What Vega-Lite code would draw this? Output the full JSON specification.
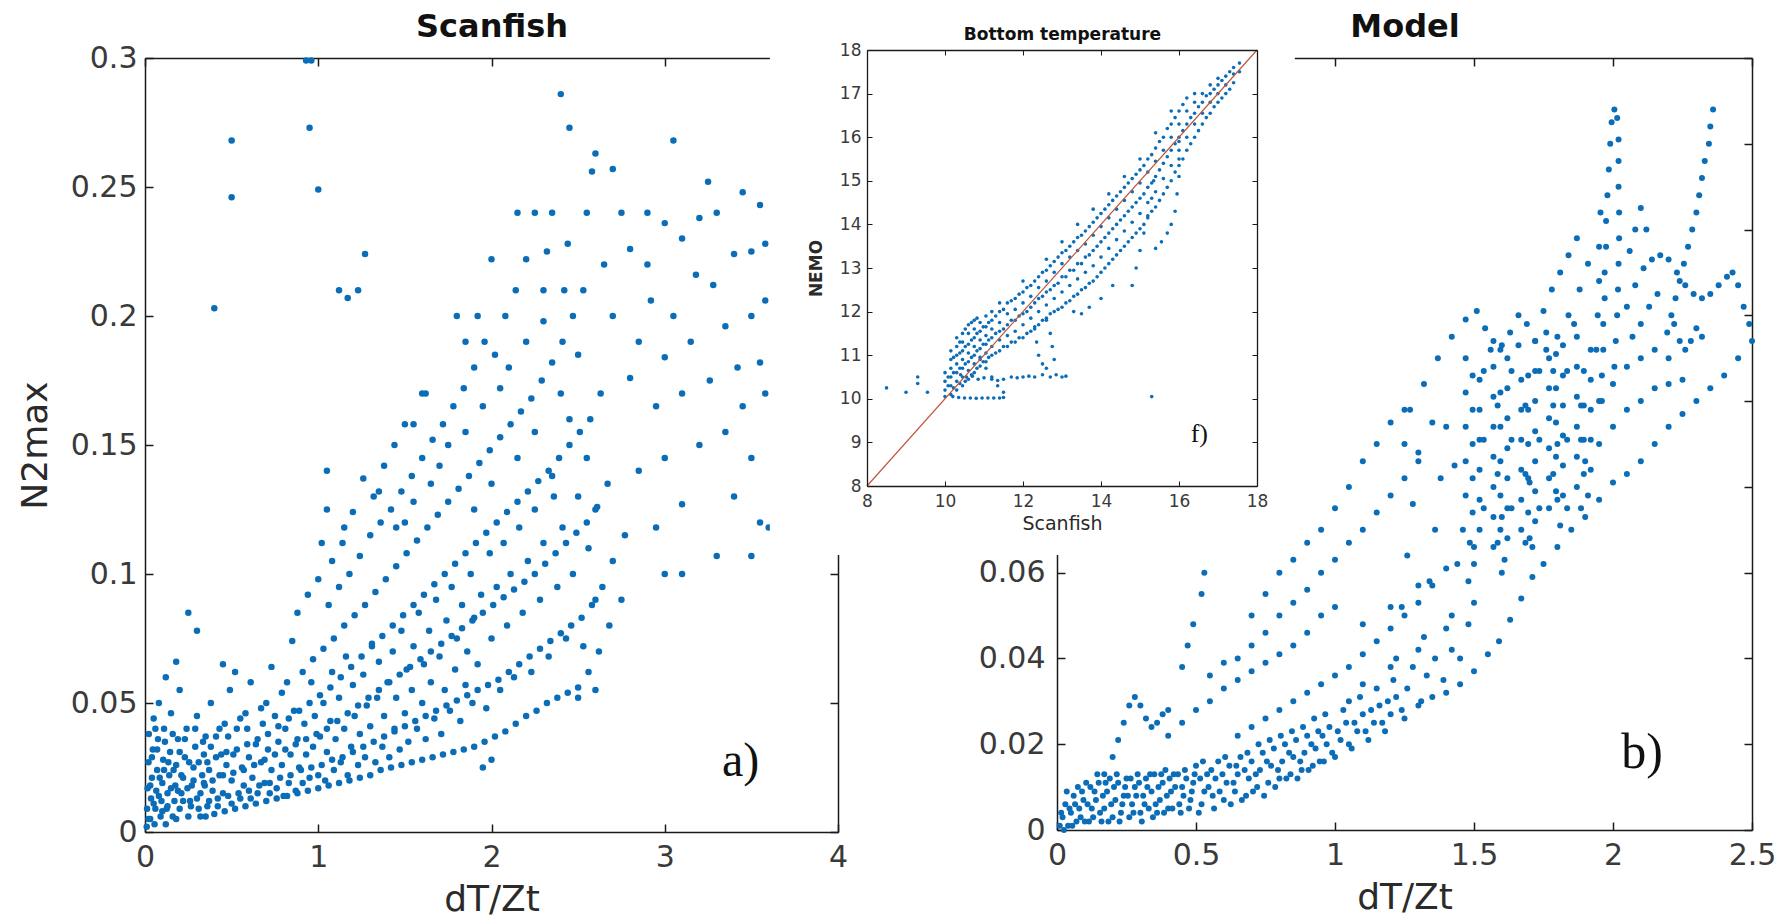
{
  "$schema": "https://vega.github.io/schema/vega-lite/v6.json",
  "width": 1790,
  "height": 924,
  "autosize": {"type": "none"},
  "padding": 0,
  "background": "white",
  "config": {
    "view": {"stroke": null},
    "axis": {
      "labelFont": "DejaVu Sans",
      "titleFont": "DejaVu Sans",
      "titleFontWeight": "normal",
      "domainColor": "#1a1a1a",
      "tickColor": "#1a1a1a",
      "labelColor": "#3a3a3a",
      "titleColor": "#2a2a2a",
      "grid": false,
      "tickSize": -8,
      "tickWidth": 1.5,
      "domainWidth": 1.5,
      "labelFlush": false,
      "labelOverlap": false,
      "format": "~g"
    }
  },
  "datasets": {
    "scanfish": [
      {"x":0.01,"y":0.002},{"x":0.012,"y":0.009},{"x":0.015,"y":0.017},{"x":0.02,"y":0.027},{"x":0.022,"y":0.038},{"x":0.03,"y":0.005},{"x":0.035,"y":0.013},{"x":0.04,"y":0.021},{"x":0.045,"y":0.032},{"x":0.05,"y":0.044},
      {"x":0.055,"y":0.003},{"x":0.06,"y":0.009},{"x":0.065,"y":0.016},{"x":0.07,"y":0.024},{"x":0.075,"y":0.036},{"x":0.08,"y":0.05},{"x":0.09,"y":0.006},{"x":0.095,"y":0.012},{"x":0.1,"y":0.019},{"x":0.105,"y":0.028},
      {"x":0.11,"y":0.04},{"x":0.12,"y":0.003},{"x":0.125,"y":0.009},{"x":0.13,"y":0.015},{"x":0.14,"y":0.022},{"x":0.145,"y":0.031},{"x":0.15,"y":0.046},{"x":0.16,"y":0.006},{"x":0.17,"y":0.012},{"x":0.175,"y":0.018},
      {"x":0.18,"y":0.026},{"x":0.19,"y":0.036},{"x":0.2,"y":0.055},{"x":0.2,"y":0.009},{"x":0.21,"y":0.015},{"x":0.22,"y":0.021},{"x":0.23,"y":0.029},{"x":0.24,"y":0.04},{"x":0.25,"y":0.006},{"x":0.26,"y":0.012},
      {"x":0.27,"y":0.018},{"x":0.28,"y":0.025},{"x":0.29,"y":0.033},{"x":0.3,"y":0.045},{"x":0.31,"y":0.009},{"x":0.32,"y":0.015},{"x":0.33,"y":0.022},{"x":0.34,"y":0.03},{"x":0.25,"y":0.085},{"x":0.3,"y":0.078},
      {"x":0.12,"y":0.06},{"x":0.18,"y":0.066},{"x":0.45,"y":0.065},{"x":0.52,"y":0.062},
      {"x":0.02,"y":0.005},{"x":0.03,"y":0.018},{"x":0.04,"y":0.029},{"x":0.05,"y":0.011},{"x":0.06,"y":0.04},{"x":0.07,"y":0.032},{"x":0.08,"y":0.014},{"x":0.085,"y":0.021},{"x":0.1,"y":0.008},{"x":0.11,"y":0.024},
      {"x":0.115,"y":0.035},{"x":0.13,"y":0.01},{"x":0.135,"y":0.027},{"x":0.15,"y":0.017},{"x":0.16,"y":0.038},{"x":0.165,"y":0.024},{"x":0.18,"y":0.005},{"x":0.19,"y":0.016},{"x":0.2,"y":0.031},{"x":0.21,"y":0.022},
      {"x":0.22,"y":0.012},{"x":0.23,"y":0.036},{"x":0.245,"y":0.017},{"x":0.255,"y":0.027},{"x":0.265,"y":0.01},{"x":0.28,"y":0.02},{"x":0.29,"y":0.04},{"x":0.3,"y":0.013},{"x":0.31,"y":0.027},{"x":0.32,"y":0.006},
      {"x":0.335,"y":0.035},{"x":0.345,"y":0.018},
      {"x":0.36,"y":0.01},{"x":0.37,"y":0.024},{"x":0.38,"y":0.033},{"x":0.39,"y":0.016},{"x":0.41,"y":0.037},{"x":0.42,"y":0.01},{"x":0.43,"y":0.022},{"x":0.44,"y":0.03},{"x":0.45,"y":0.015},{"x":0.47,"y":0.026},
      {"x":0.48,"y":0.037},{"x":0.5,"y":0.011},{"x":0.5,"y":0.02},{"x":0.51,"y":0.03},{"x":0.53,"y":0.04},{"x":0.55,"y":0.013},{"x":0.56,"y":0.025},{"x":0.57,"y":0.018},{"x":0.59,"y":0.04},{"x":0.6,"y":0.029},
      {"x":0.61,"y":0.013},{"x":0.62,"y":0.021},{"x":0.64,"y":0.034},{"x":0.65,"y":0.015},{"x":0.67,"y":0.027},{"x":0.68,"y":0.042},{"x":0.69,"y":0.019},{"x":0.71,"y":0.032},{"x":0.72,"y":0.015},{"x":0.73,"y":0.024},
      {"x":0.75,"y":0.045},{"x":0.76,"y":0.017},{"x":0.77,"y":0.035},{"x":0.79,"y":0.026},{"x":0.8,"y":0.014},{"x":0.81,"y":0.04},{"x":0.83,"y":0.019},{"x":0.84,"y":0.03},{"x":0.86,"y":0.047},{"x":0.87,"y":0.016},
      {"x":0.88,"y":0.036},{"x":0.89,"y":0.025},{"x":0.91,"y":0.019},{"x":0.92,"y":0.042},{"x":0.93,"y":0.03},
      {"x":0.95,"y":0.021},{"x":0.96,"y":0.058},{"x":0.97,"y":0.033},{"x":0.98,"y":0.045},{"x":1.0,"y":0.022},{"x":1.01,"y":0.037},{"x":1.03,"y":0.05},{"x":1.04,"y":0.02},{"x":1.05,"y":0.031},{"x":1.07,"y":0.043},
      {"x":1.08,"y":0.062},{"x":1.09,"y":0.024},{"x":1.1,"y":0.036},{"x":1.12,"y":0.052},{"x":1.13,"y":0.027},{"x":1.15,"y":0.04},{"x":1.16,"y":0.068},{"x":1.17,"y":0.022},{"x":1.19,"y":0.033},{"x":1.2,"y":0.057},
      {"x":1.21,"y":0.045},{"x":1.23,"y":0.026},{"x":1.24,"y":0.038},{"x":1.26,"y":0.061},{"x":1.27,"y":0.029},{"x":1.28,"y":0.049},{"x":1.3,"y":0.041},{"x":1.31,"y":0.073},{"x":1.33,"y":0.027},{"x":1.34,"y":0.052},
      {"x":1.35,"y":0.066},{"x":1.37,"y":0.033},{"x":1.38,"y":0.045},{"x":1.4,"y":0.058},{"x":1.41,"y":0.029},{"x":1.43,"y":0.07},{"x":1.44,"y":0.04},{"x":1.45,"y":0.052},{"x":1.47,"y":0.032},{"x":1.48,"y":0.078},
      {"x":1.5,"y":0.046},{"x":1.51,"y":0.063},{"x":1.52,"y":0.035},{"x":1.54,"y":0.055},{"x":1.55,"y":0.072},{"x":1.57,"y":0.04},{"x":1.58,"y":0.085},{"x":1.6,"y":0.05},{"x":1.61,"y":0.065},{"x":1.62,"y":0.036},
      {"x":1.64,"y":0.078},{"x":1.65,"y":0.058},{"x":1.67,"y":0.044},{"x":1.68,"y":0.09},{"x":1.7,"y":0.068},{"x":1.71,"y":0.038},{"x":1.73,"y":0.055},{"x":1.74,"y":0.082},{"x":1.76,"y":0.047},{"x":1.77,"y":0.095},
      {"x":1.79,"y":0.063},{"x":1.8,"y":0.075},{"x":1.82,"y":0.043},{"x":1.83,"y":0.088},{"x":1.85,"y":0.057},{"x":1.86,"y":0.07},{"x":1.88,"y":0.1},{"x":1.89,"y":0.05},{"x":1.9,"y":0.083},
      {"x":1.92,"y":0.065},{"x":1.94,"y":0.092},{"x":1.97,"y":0.048},{"x":1.99,"y":0.108},{"x":2.0,"y":0.075},{"x":2.03,"y":0.095},{"x":2.05,"y":0.055},{"x":2.07,"y":0.112},{"x":2.09,"y":0.08},{"x":2.11,"y":0.1},
      {"x":2.13,"y":0.06},{"x":2.16,"y":0.118},{"x":2.18,"y":0.085},{"x":2.21,"y":0.105},{"x":2.23,"y":0.062},{"x":2.25,"y":0.125},{"x":2.28,"y":0.09},{"x":2.3,"y":0.112},{"x":2.33,"y":0.068},{"x":2.36,"y":0.13},
      {"x":2.38,"y":0.095},{"x":2.41,"y":0.118},{"x":2.43,"y":0.075},{"x":2.47,"y":0.1},{"x":2.5,"y":0.13},{"x":2.53,"y":0.072},{"x":2.56,"y":0.11},{"x":2.6,"y":0.09},
      {"x":1.05,"y":0.125},{"x":1.15,"y":0.118},{"x":1.35,"y":0.132},{"x":1.45,"y":0.118},{"x":1.55,"y":0.128},{"x":1.65,"y":0.135},{"x":1.7,"y":0.142},{"x":1.75,"y":0.15},{"x":1.85,"y":0.155},{"x":1.95,"y":0.165},
      {"x":2.05,"y":0.172},{"x":2.1,"y":0.18},{"x":2.2,"y":0.19},{"x":2.3,"y":0.198},{"x":2.4,"y":0.17},{"x":2.5,"y":0.185},{"x":2.45,"y":0.16},{"x":2.25,"y":0.155},{"x":2.15,"y":0.145},{"x":2.0,"y":0.135},
      {"x":1.9,"y":0.125},{"x":2.35,"y":0.138},{"x":2.55,"y":0.145},{"x":2.6,"y":0.125},
      {"x":0.35,"y":0.006},{"x":0.37,"y":0.012},{"x":0.34,"y":0.019},{"x":0.36,"y":0.027},{"x":0.35,"y":0.037},{"x":0.38,"y":0.05},
      {"x":0.4,"y":0.007},{"x":0.42,"y":0.013},{"x":0.39,"y":0.02},{"x":0.41,"y":0.029},{"x":0.43,"y":0.04},
      {"x":0.46,"y":0.008},{"x":0.48,"y":0.014},{"x":0.45,"y":0.022},{"x":0.47,"y":0.031},{"x":0.46,"y":0.042},{"x":0.49,"y":0.055},
      {"x":0.52,"y":0.009},{"x":0.54,"y":0.015},{"x":0.51,"y":0.023},{"x":0.53,"y":0.032},{"x":0.55,"y":0.044},
      {"x":0.58,"y":0.01},{"x":0.6,"y":0.016},{"x":0.57,"y":0.024},{"x":0.59,"y":0.034},{"x":0.58,"y":0.046},{"x":0.61,"y":0.058},
      {"x":0.64,"y":0.011},{"x":0.66,"y":0.018},{"x":0.63,"y":0.026},{"x":0.65,"y":0.036},{"x":0.67,"y":0.048},
      {"x":0.7,"y":0.012},{"x":0.72,"y":0.019},{"x":0.69,"y":0.028},{"x":0.71,"y":0.038},{"x":0.7,"y":0.05},{"x":0.73,"y":0.064},
      {"x":0.76,"y":0.013},{"x":0.78,"y":0.021},{"x":0.75,"y":0.03},{"x":0.77,"y":0.041},{"x":0.79,"y":0.054},
      {"x":0.82,"y":0.014},{"x":0.84,"y":0.022},{"x":0.81,"y":0.032},{"x":0.83,"y":0.044},{"x":0.82,"y":0.058},{"x":0.85,"y":0.074},
      {"x":0.88,"y":0.015},{"x":0.9,"y":0.024},{"x":0.87,"y":0.034},{"x":0.89,"y":0.047},{"x":0.91,"y":0.062},{"x":0.88,"y":0.085},
      {"x":0.94,"y":0.016},{"x":0.96,"y":0.025},{"x":0.93,"y":0.036},{"x":0.95,"y":0.05},{"x":0.97,"y":0.067},{"x":0.94,"y":0.092},
      {"x":1.0,"y":0.017},{"x":1.02,"y":0.026},{"x":0.99,"y":0.038},{"x":1.01,"y":0.053},{"x":1.03,"y":0.071},{"x":1.0,"y":0.098},{"x":1.02,"y":0.112},
      {"x":1.06,"y":0.018},{"x":1.08,"y":0.028},{"x":1.05,"y":0.04},{"x":1.07,"y":0.056},{"x":1.09,"y":0.075},{"x":1.06,"y":0.088},{"x":1.08,"y":0.105},
      {"x":1.12,"y":0.019},{"x":1.14,"y":0.029},{"x":1.11,"y":0.043},{"x":1.13,"y":0.06},{"x":1.15,"y":0.08},{"x":1.12,"y":0.095},{"x":1.14,"y":0.112},
      {"x":1.18,"y":0.02},{"x":1.2,"y":0.031},{"x":1.17,"y":0.046},{"x":1.19,"y":0.064},{"x":1.21,"y":0.084},{"x":1.18,"y":0.1},{"x":1.2,"y":0.124},
      {"x":1.24,"y":0.021},{"x":1.26,"y":0.033},{"x":1.23,"y":0.049},{"x":1.25,"y":0.068},{"x":1.27,"y":0.088},{"x":1.24,"y":0.107},{"x":1.26,"y":0.137},
      {"x":1.3,"y":0.022},{"x":1.32,"y":0.035},{"x":1.29,"y":0.052},{"x":1.31,"y":0.072},{"x":1.33,"y":0.093},{"x":1.3,"y":0.115},{"x":1.32,"y":0.13},
      {"x":1.36,"y":0.024},{"x":1.38,"y":0.037},{"x":1.35,"y":0.055},{"x":1.37,"y":0.076},{"x":1.39,"y":0.098},{"x":1.36,"y":0.12},{"x":1.38,"y":0.142},
      {"x":1.42,"y":0.025},{"x":1.44,"y":0.039},{"x":1.41,"y":0.058},{"x":1.43,"y":0.08},{"x":1.45,"y":0.103},{"x":1.42,"y":0.125},{"x":1.44,"y":0.15},
      {"x":1.48,"y":0.026},{"x":1.5,"y":0.041},{"x":1.47,"y":0.061},{"x":1.49,"y":0.084},{"x":1.51,"y":0.108},{"x":1.48,"y":0.132},{"x":1.5,"y":0.158},
      {"x":1.54,"y":0.027},{"x":1.56,"y":0.043},{"x":1.53,"y":0.064},{"x":1.55,"y":0.088},{"x":1.57,"y":0.113},{"x":1.54,"y":0.138},
      {"x":1.6,"y":0.028},{"x":1.62,"y":0.045},{"x":1.59,"y":0.067},{"x":1.61,"y":0.092},{"x":1.63,"y":0.118},{"x":1.6,"y":0.145},{"x":1.62,"y":0.17},
      {"x":1.66,"y":0.029},{"x":1.68,"y":0.047},{"x":1.65,"y":0.07},{"x":1.67,"y":0.096},{"x":1.69,"y":0.123},{"x":1.66,"y":0.152},
      {"x":1.72,"y":0.03},{"x":1.74,"y":0.049},{"x":1.71,"y":0.073},{"x":1.73,"y":0.1},{"x":1.75,"y":0.128},{"x":1.72,"y":0.158},
      {"x":1.78,"y":0.031},{"x":1.8,"y":0.051},{"x":1.77,"y":0.076},{"x":1.79,"y":0.104},{"x":1.81,"y":0.133},{"x":1.78,"y":0.165},
      {"x":1.84,"y":0.032},{"x":1.86,"y":0.053},{"x":1.83,"y":0.079},{"x":1.85,"y":0.108},{"x":1.87,"y":0.138},{"x":1.84,"y":0.172},
      {"x":1.9,"y":0.033},{"x":1.92,"y":0.055},{"x":1.89,"y":0.082},{"x":1.91,"y":0.112},{"x":1.93,"y":0.143},{"x":1.9,"y":0.18},{"x":1.92,"y":0.2},
      {"x":1.96,"y":0.035},{"x":1.98,"y":0.057},{"x":1.95,"y":0.085},{"x":1.97,"y":0.116},{"x":1.99,"y":0.148},{"x":1.96,"y":0.19},
      {"x":2.02,"y":0.037},{"x":2.04,"y":0.059},{"x":2.01,"y":0.088},{"x":2.03,"y":0.12},{"x":2.05,"y":0.153},{"x":2.02,"y":0.185},
      {"x":2.08,"y":0.039},{"x":2.1,"y":0.062},{"x":2.07,"y":0.091},{"x":2.09,"y":0.124},{"x":2.11,"y":0.158},{"x":2.08,"y":0.2},
      {"x":2.14,"y":0.042},{"x":2.16,"y":0.065},{"x":2.13,"y":0.094},{"x":2.15,"y":0.128},{"x":2.17,"y":0.163},{"x":2.14,"y":0.21},
      {"x":2.2,"y":0.045},{"x":2.22,"y":0.068},{"x":2.19,"y":0.097},{"x":2.21,"y":0.132},{"x":2.23,"y":0.168},{"x":2.2,"y":0.222},
      {"x":2.26,"y":0.047},{"x":2.28,"y":0.071},{"x":2.25,"y":0.1},{"x":2.27,"y":0.136},{"x":2.29,"y":0.175},
      {"x":2.32,"y":0.05},{"x":2.34,"y":0.074},{"x":2.31,"y":0.104},{"x":2.33,"y":0.14},{"x":2.35,"y":0.182},{"x":2.32,"y":0.225},
      {"x":2.38,"y":0.052},{"x":2.4,"y":0.077},{"x":2.37,"y":0.108},{"x":2.39,"y":0.145},{"x":2.41,"y":0.19},
      {"x":2.44,"y":0.054},{"x":2.46,"y":0.08},{"x":2.43,"y":0.112},{"x":2.45,"y":0.15},{"x":2.47,"y":0.2},{"x":2.44,"y":0.228},
      {"x":2.5,"y":0.056},{"x":2.52,"y":0.083},{"x":2.49,"y":0.116},{"x":2.51,"y":0.155},{"x":2.53,"y":0.21},
      {"x":2.56,"y":0.062},{"x":2.58,"y":0.088},{"x":2.55,"y":0.12},{"x":2.57,"y":0.16},{"x":2.55,"y":0.24},
      {"x":2.62,"y":0.07},{"x":2.64,"y":0.095},{"x":2.61,"y":0.126},{"x":2.63,"y":0.17},
      {"x":2.68,"y":0.08},{"x":2.7,"y":0.105},{"x":2.67,"y":0.135},{"x":2.75,"y":0.09},{"x":2.77,"y":0.115},
      {"x":0.4,"y":0.203},{"x":0.5,"y":0.268},{"x":0.5,"y":0.246},{"x":0.93,"y":0.299},{"x":0.96,"y":0.299},{"x":0.95,"y":0.273},{"x":1.0,"y":0.249},{"x":1.27,"y":0.224},{"x":1.12,"y":0.21},{"x":1.17,"y":0.207},
      {"x":1.23,"y":0.21},{"x":2.4,"y":0.286},{"x":2.45,"y":0.273},{"x":3.05,"y":0.268},{"x":2.6,"y":0.263},{"x":2.58,"y":0.256},{"x":2.7,"y":0.257},{"x":2.75,"y":0.24},{"x":2.9,"y":0.24},{"x":3.0,"y":0.236},
      {"x":3.1,"y":0.23},{"x":3.2,"y":0.238},{"x":3.3,"y":0.24},{"x":3.45,"y":0.248},{"x":3.55,"y":0.243},{"x":3.58,"y":0.228},{"x":3.4,"y":0.224},{"x":3.28,"y":0.212},{"x":3.18,"y":0.216},{"x":3.05,"y":0.2},
      {"x":2.92,"y":0.206},{"x":2.85,"y":0.19},{"x":3.0,"y":0.184},{"x":3.15,"y":0.19},{"x":3.35,"y":0.196},{"x":3.5,"y":0.2},{"x":3.58,"y":0.206},{"x":3.55,"y":0.182},{"x":3.42,"y":0.18},{"x":3.26,"y":0.175},
      {"x":3.1,"y":0.17},{"x":2.95,"y":0.165},{"x":2.8,"y":0.176},{"x":3.45,"y":0.165},{"x":3.58,"y":0.17},{"x":3.35,"y":0.155},{"x":3.2,"y":0.15},{"x":3.5,"y":0.145},{"x":3.0,"y":0.145},{"x":2.85,"y":0.14},
      {"x":3.4,"y":0.13},{"x":3.55,"y":0.12},{"x":3.1,"y":0.127},{"x":2.95,"y":0.118},{"x":3.3,"y":0.107},{"x":3.0,"y":0.1},{"x":3.1,"y":0.1},{"x":3.5,"y":0.107},{"x":3.6,"y":0.118},{"x":3.5,"y":0.225},
      {"x":2.9,"y":0.22},{"x":2.7,"y":0.2},{"x":2.65,"y":0.22},{"x":2.8,"y":0.226},{"x":3.25,"y":0.252},{"x":1.05,"y":0.14},{"x":1.6,"y":0.17},{"x":1.55,"y":0.158},{"x":2.6,"y":0.055},{"x":2.5,"y":0.052},
      {"x":1.95,"y":0.025},{"x":2.0,"y":0.028},{"x":1.5,"y":0.12},{"x":2.0,"y":0.222},{"x":2.25,"y":0.24},{"x":2.35,"y":0.24},{"x":2.15,"y":0.24},{"x":2.3,"y":0.21},{"x":2.42,"y":0.21},{"x":1.8,"y":0.2},{"x":1.85,"y":0.19}
    ],
    "model": [
      {"x":0.01,"y":0.001},{"x":0.02,"y":0.003},{"x":0.03,"y":0.006},{"x":0.04,"y":0.001},{"x":0.05,"y":0.004},{"x":0.06,"y":0.008},{"x":0.07,"y":0.002},{"x":0.08,"y":0.005},{"x":0.09,"y":0.009},{"x":0.1,"y":0.002},
      {"x":0.11,"y":0.006},{"x":0.12,"y":0.01},{"x":0.13,"y":0.003},{"x":0.14,"y":0.007},{"x":0.15,"y":0.011},{"x":0.16,"y":0.002},{"x":0.17,"y":0.005},{"x":0.18,"y":0.009},{"x":0.19,"y":0.012},{"x":0.2,"y":0.003},
      {"x":0.21,"y":0.007},{"x":0.22,"y":0.011},{"x":0.23,"y":0.004},{"x":0.24,"y":0.008},{"x":0.25,"y":0.012},{"x":0.26,"y":0.003},{"x":0.27,"y":0.006},{"x":0.28,"y":0.01},{"x":0.29,"y":0.013},{"x":0.3,"y":0.004},
      {"x":0.31,"y":0.008},{"x":0.32,"y":0.012},{"x":0.33,"y":0.005},{"x":0.34,"y":0.009},{"x":0.35,"y":0.013},{"x":0.36,"y":0.004},{"x":0.37,"y":0.007},{"x":0.38,"y":0.011},{"x":0.39,"y":0.014},{"x":0.4,"y":0.005},
      {"x":0.41,"y":0.009},{"x":0.42,"y":0.013},{"x":0.44,"y":0.006},{"x":0.45,"y":0.01},{"x":0.46,"y":0.014},{"x":0.48,"y":0.007},{"x":0.49,"y":0.011},{"x":0.5,"y":0.015},{"x":0.52,"y":0.006},{"x":0.53,"y":0.009},
      {"x":0.54,"y":0.013},{"x":0.56,"y":0.008},{"x":0.57,"y":0.012},{"x":0.58,"y":0.016},{"x":0.6,"y":0.007},{"x":0.61,"y":0.011},{"x":0.62,"y":0.015},{"x":0.64,"y":0.009},{"x":0.65,"y":0.013},{"x":0.66,"y":0.017},
      {"x":0.68,"y":0.008},{"x":0.69,"y":0.012},{"x":0.7,"y":0.016},{"x":0.72,"y":0.01},{"x":0.73,"y":0.014},{"x":0.74,"y":0.018},{"x":0.76,"y":0.011},{"x":0.77,"y":0.015},{"x":0.78,"y":0.019},{"x":0.8,"y":0.012},
      {"x":0.81,"y":0.016},{"x":0.82,"y":0.02},{"x":0.84,"y":0.013},{"x":0.85,"y":0.017},{"x":0.86,"y":0.021},{"x":0.88,"y":0.014},{"x":0.89,"y":0.018},{"x":0.9,"y":0.022},{"x":0.92,"y":0.015},{"x":0.93,"y":0.019},
      {"x":0.94,"y":0.023},{"x":0.96,"y":0.016},{"x":0.97,"y":0.02},{"x":0.98,"y":0.024},{"x":1.0,"y":0.017},{"x":1.02,"y":0.021},{"x":1.04,"y":0.025},{"x":1.06,"y":0.019},{"x":1.08,"y":0.023},{"x":1.1,"y":0.027},
      {"x":1.12,"y":0.021},{"x":1.14,"y":0.025},{"x":1.16,"y":0.029},{"x":1.18,"y":0.023},{"x":1.2,"y":0.027},{"x":1.22,"y":0.031},
      {"x":0.015,"y":0.004},{"x":0.025,"y":0.0},{"x":0.035,"y":0.009},{"x":0.045,"y":0.005},{"x":0.055,"y":0.001},{"x":0.065,"y":0.006},{"x":0.075,"y":0.01},{"x":0.085,"y":0.003},{"x":0.095,"y":0.007},{"x":0.105,"y":0.011},
      {"x":0.115,"y":0.002},{"x":0.125,"y":0.005},{"x":0.135,"y":0.009},{"x":0.145,"y":0.013},{"x":0.155,"y":0.004},{"x":0.165,"y":0.008},{"x":0.175,"y":0.011},{"x":0.185,"y":0.002},{"x":0.195,"y":0.006},{"x":0.205,"y":0.01},
      {"x":0.215,"y":0.013},{"x":0.225,"y":0.002},{"x":0.235,"y":0.006},{"x":0.245,"y":0.01},{"x":0.255,"y":0.008},{"x":0.265,"y":0.012},{"x":0.275,"y":0.004},{"x":0.285,"y":0.008},{"x":0.295,"y":0.011},{"x":0.305,"y":0.002},
      {"x":0.315,"y":0.006},{"x":0.325,"y":0.01},{"x":0.335,"y":0.013},{"x":0.345,"y":0.003},{"x":0.355,"y":0.006},{"x":0.365,"y":0.01},{"x":0.375,"y":0.013},{"x":0.385,"y":0.004},{"x":0.395,"y":0.008},{"x":0.405,"y":0.012},
      {"x":0.415,"y":0.005},{"x":0.425,"y":0.01},{"x":0.435,"y":0.013},{"x":0.445,"y":0.004},{"x":0.455,"y":0.008},{"x":0.465,"y":0.012},{"x":0.475,"y":0.005},{"x":0.485,"y":0.009},{"x":0.495,"y":0.013},{"x":0.51,"y":0.004},
      {"x":0.515,"y":0.012},{"x":0.525,"y":0.016},{"x":0.545,"y":0.01},{"x":0.555,"y":0.014},{"x":0.565,"y":0.005},{"x":0.585,"y":0.009},{"x":0.595,"y":0.013},{"x":0.605,"y":0.017},{"x":0.625,"y":0.006},{"x":0.635,"y":0.011},
      {"x":0.645,"y":0.015},{"x":0.665,"y":0.007},{"x":0.675,"y":0.014},{"x":0.685,"y":0.018},{"x":0.705,"y":0.009},{"x":0.715,"y":0.013},{"x":0.725,"y":0.02},{"x":0.745,"y":0.008},{"x":0.755,"y":0.016},{"x":0.765,"y":0.021},
      {"x":0.785,"y":0.01},{"x":0.795,"y":0.014},{"x":0.805,"y":0.022},{"x":0.825,"y":0.012},{"x":0.835,"y":0.018},{"x":0.845,"y":0.023},{"x":0.865,"y":0.012},{"x":0.875,"y":0.016},{"x":0.885,"y":0.024},{"x":0.905,"y":0.014},
      {"x":0.915,"y":0.02},{"x":0.925,"y":0.026},{"x":0.945,"y":0.016},{"x":0.955,"y":0.022},{"x":0.965,"y":0.027},{"x":0.99,"y":0.018},{"x":1.01,"y":0.023},{"x":1.03,"y":0.028},{"x":1.05,"y":0.02},{"x":1.07,"y":0.025},
      {"x":1.09,"y":0.031},{"x":1.11,"y":0.023},{"x":1.13,"y":0.028},{"x":1.15,"y":0.033},{"x":1.17,"y":0.025},{"x":1.19,"y":0.03},{"x":1.21,"y":0.035},{"x":1.24,"y":0.028},{"x":1.26,"y":0.033},{"x":1.28,"y":0.038},
      {"x":1.31,"y":0.03},{"x":1.33,"y":0.036},{"x":1.36,"y":0.04},{"x":1.39,"y":0.035},{"x":1.42,"y":0.042},{"x":1.45,"y":0.04},{"x":1.48,"y":0.048},
      {"x":0.17,"y":0.013},{"x":0.2,"y":0.017},{"x":0.22,"y":0.021},{"x":0.24,"y":0.025},{"x":0.26,"y":0.029},{"x":0.28,"y":0.031},{"x":0.3,"y":0.029},{"x":0.32,"y":0.026},{"x":0.34,"y":0.024},{"x":0.36,"y":0.025},
      {"x":0.38,"y":0.027},{"x":0.4,"y":0.028},{"x":0.45,"y":0.038},{"x":0.47,"y":0.043},{"x":0.49,"y":0.048},{"x":0.52,"y":0.055},{"x":0.53,"y":0.06},
      {"x":0.4,"y":0.022},{"x":0.45,"y":0.025},{"x":0.5,"y":0.028},{"x":0.55,"y":0.03},{"x":0.6,"y":0.033},{"x":0.65,"y":0.035},{"x":0.7,"y":0.037},{"x":0.75,"y":0.039},{"x":0.8,"y":0.041},{"x":0.85,"y":0.043},
      {"x":0.9,"y":0.046},{"x":0.95,"y":0.05},{"x":1.0,"y":0.052},
      {"x":0.55,"y":0.036},{"x":0.6,"y":0.039},{"x":0.65,"y":0.04},{"x":0.7,"y":0.043},{"x":0.75,"y":0.046},{"x":0.8,"y":0.05},{"x":0.85,"y":0.053},{"x":0.9,"y":0.056},{"x":0.95,"y":0.06},{"x":1.0,"y":0.063},
      {"x":1.05,"y":0.067},{"x":1.1,"y":0.07},{"x":1.15,"y":0.074},{"x":1.2,"y":0.078},{"x":1.25,"y":0.082},{"x":1.3,"y":0.086},
      {"x":0.65,"y":0.022},{"x":0.7,"y":0.024},{"x":0.75,"y":0.026},{"x":0.8,"y":0.028},{"x":0.85,"y":0.03},{"x":0.9,"y":0.032},{"x":0.95,"y":0.034},{"x":1.0,"y":0.036},{"x":1.05,"y":0.038},{"x":1.1,"y":0.041},
      {"x":1.15,"y":0.044},{"x":1.2,"y":0.047},{"x":1.25,"y":0.05},{"x":1.3,"y":0.053},{"x":1.35,"y":0.057},
      {"x":0.7,"y":0.05},{"x":0.75,"y":0.055},{"x":0.8,"y":0.06},{"x":0.85,"y":0.063},{"x":0.9,"y":0.067},{"x":0.95,"y":0.07},{"x":1.0,"y":0.075},{"x":1.05,"y":0.08},{"x":1.1,"y":0.086},{"x":1.15,"y":0.09},
      {"x":1.2,"y":0.095},{"x":1.25,"y":0.098},
      {"x":1.25,"y":0.026},{"x":1.3,"y":0.029},{"x":1.35,"y":0.031},{"x":1.4,"y":0.032},{"x":1.45,"y":0.034},{"x":1.5,"y":0.037},{"x":1.55,"y":0.041},{"x":1.59,"y":0.044},{"x":1.63,"y":0.049},{"x":1.67,"y":0.054},
      {"x":1.71,"y":0.059},{"x":1.75,"y":0.062},{"x":1.8,"y":0.066},{"x":1.85,"y":0.07},{"x":1.9,"y":0.073},{"x":1.95,"y":0.077},{"x":2.0,"y":0.081},{"x":2.05,"y":0.083},{"x":2.1,"y":0.086},{"x":2.15,"y":0.09},
      {"x":2.2,"y":0.094},{"x":2.25,"y":0.097},{"x":2.3,"y":0.1},{"x":2.35,"y":0.103},{"x":2.4,"y":0.106},{"x":2.45,"y":0.11},{"x":2.5,"y":0.114},
      {"x":1.05,"y":0.03},{"x":1.1,"y":0.034},{"x":1.2,"y":0.038},{"x":1.3,"y":0.042},{"x":1.4,"y":0.047},{"x":1.5,"y":0.053},{"x":1.6,"y":0.06},{"x":1.7,"y":0.068},{"x":1.8,"y":0.077},{"x":1.9,"y":0.086},
      {"x":1.1,"y":0.048},{"x":1.2,"y":0.052},{"x":1.3,"y":0.057},{"x":1.4,"y":0.061},{"x":1.5,"y":0.066},{"x":1.6,"y":0.073},{"x":1.7,"y":0.081},{"x":1.8,"y":0.09},
      {"x":1.22,"y":0.04},{"x":1.24,"y":0.052},{"x":1.26,"y":0.064},{"x":1.28,"y":0.076},{"x":1.3,"y":0.088},{"x":1.32,"y":0.045},{"x":1.34,"y":0.058},{"x":1.36,"y":0.07},{"x":1.38,"y":0.082},{"x":1.4,"y":0.094},
      {"x":1.42,"y":0.05},{"x":1.44,"y":0.062},{"x":1.46,"y":0.07},{"x":1.43,"y":0.085},{"x":1.48,"y":0.058},{"x":1.5,"y":0.062},{"x":1.35,"y":0.095},{"x":1.25,"y":0.09},
      {"x":1.47,"y":0.078},{"x":1.47,"y":0.086},{"x":1.47,"y":0.094},{"x":1.47,"y":0.102},{"x":1.47,"y":0.11},
      {"x":1.52,"y":0.07},{"x":1.52,"y":0.077},{"x":1.52,"y":0.084},{"x":1.52,"y":0.091},{"x":1.52,"y":0.098},{"x":1.52,"y":0.105},
      {"x":1.57,"y":0.066},{"x":1.57,"y":0.073},{"x":1.57,"y":0.08},{"x":1.57,"y":0.087},{"x":1.57,"y":0.094},{"x":1.57,"y":0.101},{"x":1.57,"y":0.108},
      {"x":1.62,"y":0.068},{"x":1.62,"y":0.075},{"x":1.62,"y":0.082},{"x":1.62,"y":0.089},{"x":1.62,"y":0.096},{"x":1.62,"y":0.103},{"x":1.62,"y":0.11},
      {"x":1.67,"y":0.07},{"x":1.67,"y":0.077},{"x":1.67,"y":0.084},{"x":1.67,"y":0.091},{"x":1.67,"y":0.098},{"x":1.67,"y":0.105},
      {"x":1.72,"y":0.072},{"x":1.72,"y":0.079},{"x":1.72,"y":0.086},{"x":1.72,"y":0.093},{"x":1.72,"y":0.1},{"x":1.72,"y":0.107},{"x":1.72,"y":0.114},
      {"x":1.77,"y":0.075},{"x":1.77,"y":0.082},{"x":1.77,"y":0.089},{"x":1.77,"y":0.096},{"x":1.77,"y":0.103},{"x":1.77,"y":0.11},
      {"x":1.82,"y":0.078},{"x":1.82,"y":0.085},{"x":1.82,"y":0.092},{"x":1.82,"y":0.099},{"x":1.82,"y":0.106},{"x":1.82,"y":0.113},
      {"x":1.87,"y":0.08},{"x":1.87,"y":0.087},{"x":1.87,"y":0.094},{"x":1.87,"y":0.101},{"x":1.87,"y":0.108},{"x":1.87,"y":0.115},
      {"x":1.92,"y":0.084},{"x":1.92,"y":0.091},{"x":1.92,"y":0.098},{"x":1.92,"y":0.105},{"x":1.92,"y":0.112},
      {"x":1.495,"y":0.074},{"x":1.495,"y":0.082},{"x":1.495,"y":0.09},{"x":1.495,"y":0.098},{"x":1.495,"y":0.106},
      {"x":1.595,"y":0.07},{"x":1.595,"y":0.078},{"x":1.595,"y":0.086},{"x":1.595,"y":0.094},{"x":1.595,"y":0.102},{"x":1.595,"y":0.112},
      {"x":1.695,"y":0.074},{"x":1.695,"y":0.082},{"x":1.695,"y":0.09},{"x":1.695,"y":0.098},{"x":1.695,"y":0.106},
      {"x":1.795,"y":0.079},{"x":1.795,"y":0.087},{"x":1.795,"y":0.095},{"x":1.795,"y":0.103},{"x":1.795,"y":0.111},
      {"x":1.895,"y":0.083},{"x":1.895,"y":0.091},{"x":1.895,"y":0.099},{"x":1.895,"y":0.107},
      {"x":1.485,"y":0.067},{"x":1.535,"y":0.075},{"x":1.585,"y":0.083},{"x":1.635,"y":0.091},{"x":1.685,"y":0.099},{"x":1.735,"y":0.107},{"x":1.785,"y":0.083},{"x":1.835,"y":0.091},{"x":1.885,"y":0.099},{"x":1.535,"y":0.091},
      {"x":1.585,"y":0.099},{"x":1.635,"y":0.107},{"x":1.685,"y":0.067},{"x":1.735,"y":0.075},{"x":1.785,"y":0.099},{"x":1.835,"y":0.107},{"x":1.885,"y":0.075},{"x":1.535,"y":0.107},{"x":1.585,"y":0.067},{"x":1.635,"y":0.075},
      {"x":1.685,"y":0.083},{"x":1.735,"y":0.091},{"x":1.785,"y":0.107},{"x":1.835,"y":0.075},{"x":1.885,"y":0.091},{"x":1.61,"y":0.063},{"x":1.71,"y":0.066},{"x":1.81,"y":0.071},{"x":1.91,"y":0.078},{"x":1.56,"y":0.112},
      {"x":1.66,"y":0.113},{"x":1.76,"y":0.116},{"x":1.86,"y":0.118},
      {"x":1.96,"y":0.1},{"x":1.96,"y":0.106},{"x":1.965,"y":0.112},{"x":1.965,"y":0.118},{"x":1.97,"y":0.124},{"x":1.97,"y":0.13},{"x":1.975,"y":0.136},{"x":1.975,"y":0.142},{"x":1.98,"y":0.148},{"x":1.985,"y":0.154},
      {"x":1.99,"y":0.16},{"x":1.995,"y":0.165},{"x":2.005,"y":0.168},{"x":2.015,"y":0.166},{"x":2.02,"y":0.161},{"x":2.02,"y":0.156},{"x":2.02,"y":0.15},{"x":2.022,"y":0.144},{"x":2.022,"y":0.138},{"x":2.02,"y":0.132},
      {"x":2.018,"y":0.126},{"x":2.015,"y":0.12},{"x":2.01,"y":0.114},{"x":2.005,"y":0.108},{"x":1.94,"y":0.112},{"x":1.945,"y":0.12},{"x":1.95,"y":0.128},{"x":1.95,"y":0.136},{"x":1.955,"y":0.144},
      {"x":2.36,"y":0.168},{"x":2.35,"y":0.164},{"x":2.345,"y":0.16},{"x":2.33,"y":0.156},{"x":2.32,"y":0.152},{"x":2.31,"y":0.148},{"x":2.3,"y":0.144},{"x":2.285,"y":0.14},{"x":2.27,"y":0.136},{"x":2.255,"y":0.132},
      {"x":2.24,"y":0.128},{"x":2.225,"y":0.124},{"x":2.21,"y":0.12},{"x":2.195,"y":0.116},
      {"x":2.05,"y":0.122},{"x":2.08,"y":0.127},{"x":2.11,"y":0.131},{"x":2.14,"y":0.133},{"x":2.17,"y":0.134},{"x":2.2,"y":0.133},{"x":2.23,"y":0.13},{"x":2.26,"y":0.127},{"x":2.29,"y":0.125},{"x":2.32,"y":0.124},
      {"x":2.35,"y":0.125},{"x":2.38,"y":0.127},{"x":2.41,"y":0.129},{"x":2.43,"y":0.13},{"x":2.45,"y":0.127},{"x":2.47,"y":0.122},{"x":2.49,"y":0.118},
      {"x":2.22,"y":0.118},{"x":2.24,"y":0.114},{"x":2.26,"y":0.112},{"x":2.28,"y":0.114},{"x":2.3,"y":0.117},{"x":2.32,"y":0.115},
      {"x":2.06,"y":0.135},{"x":2.08,"y":0.14},{"x":2.1,"y":0.145},{"x":2.12,"y":0.14},{"x":2.07,"y":0.115},{"x":2.1,"y":0.118},{"x":2.13,"y":0.122},{"x":2.16,"y":0.125},
      {"x":1.95,"y":0.1},{"x":2.0,"y":0.104},{"x":2.05,"y":0.108},{"x":2.1,"y":0.11},{"x":2.15,"y":0.112},{"x":2.2,"y":0.11},{"x":1.95,"y":0.09},{"x":2.0,"y":0.094},{"x":2.05,"y":0.098},{"x":2.1,"y":0.1},
      {"x":2.15,"y":0.103},{"x":2.2,"y":0.104},{"x":2.25,"y":0.105},
      {"x":1.27,"y":0.098},{"x":1.32,"y":0.104},{"x":1.37,"y":0.11},{"x":1.42,"y":0.115},{"x":1.47,"y":0.119},{"x":1.51,"y":0.121},{"x":1.54,"y":0.117},{"x":1.57,"y":0.114},{"x":1.6,"y":0.113},{"x":1.63,"y":0.116},
      {"x":1.66,"y":0.12},{"x":1.69,"y":0.118},{"x":1.72,"y":0.114},{"x":1.76,"y":0.112},{"x":1.8,"y":0.115},{"x":1.84,"y":0.12},{"x":1.88,"y":0.126},{"x":1.91,"y":0.132},
      {"x":1.75,"y":0.121},{"x":1.78,"y":0.126},{"x":1.81,"y":0.13},{"x":1.84,"y":0.134},{"x":1.87,"y":0.138}
    ],
    "bottom": [
      {"x":8.5,"y":10.25},{"x":9.0,"y":10.15},{"x":9.3,"y":10.5},{"x":9.3,"y":10.35},{"x":9.55,"y":10.15},{"x":15.3,"y":10.05},
      {"x":10.2,"y":10.05},{"x":10.35,"y":10.03},{"x":10.5,"y":10.02},{"x":10.65,"y":10.02},{"x":10.8,"y":10.01},{"x":10.95,"y":10.02},{"x":11.1,"y":10.02},{"x":11.25,"y":10.02},{"x":11.4,"y":10.02},{"x":11.5,"y":10.03},
      {"x":10.4,"y":10.55},{"x":10.55,"y":10.5},{"x":10.7,"y":10.52},{"x":10.85,"y":10.45},{"x":11.0,"y":10.48},{"x":11.2,"y":10.45},{"x":11.35,"y":10.42},{"x":11.5,"y":10.45},{"x":11.7,"y":10.5},{"x":11.85,"y":10.48},
      {"x":12.0,"y":10.5},{"x":12.15,"y":10.52},{"x":12.3,"y":10.5},{"x":12.5,"y":10.55},{"x":12.7,"y":10.5},{"x":12.85,"y":10.55},{"x":13.0,"y":10.5},{"x":13.1,"y":10.52},
      {"x":10.9,"y":10.9},{"x":11.05,"y":10.7},{"x":11.2,"y":10.5},{"x":11.35,"y":10.3},{"x":11.5,"y":10.15},
      {"x":12.3,"y":11.6},{"x":12.35,"y":11.3},{"x":12.4,"y":11.0},{"x":12.5,"y":10.8},{"x":12.6,"y":10.7},{"x":12.6,"y":11.8},{"x":12.7,"y":11.5},{"x":12.75,"y":11.2},{"x":12.8,"y":10.9},
      {"x":10.0,"y":10.05},{"x":10.0,"y":10.2},{"x":10.0,"y":10.4},{"x":10.0,"y":10.6},
      {"x":10.15,"y":10.1},{"x":10.15,"y":10.3},{"x":10.15,"y":10.5},{"x":10.15,"y":10.7},{"x":10.15,"y":10.9},{"x":10.15,"y":11.1},
      {"x":10.3,"y":10.2},{"x":10.3,"y":10.4},{"x":10.3,"y":10.6},{"x":10.3,"y":10.8},{"x":10.3,"y":11.0},{"x":10.3,"y":11.2},{"x":10.3,"y":11.4},
      {"x":10.45,"y":10.3},{"x":10.45,"y":10.5},{"x":10.45,"y":10.7},{"x":10.45,"y":10.9},{"x":10.45,"y":11.1},{"x":10.45,"y":11.3},{"x":10.45,"y":11.5},
      {"x":10.6,"y":10.45},{"x":10.6,"y":10.65},{"x":10.6,"y":10.85},{"x":10.6,"y":11.05},{"x":10.6,"y":11.25},{"x":10.6,"y":11.5},{"x":10.6,"y":11.7},
      {"x":10.75,"y":10.6},{"x":10.75,"y":10.8},{"x":10.75,"y":11.0},{"x":10.75,"y":11.2},{"x":10.75,"y":11.4},{"x":10.75,"y":11.6},{"x":10.75,"y":11.8},
      {"x":10.9,"y":10.75},{"x":10.9,"y":10.95},{"x":10.9,"y":11.15},{"x":10.9,"y":11.35},{"x":10.9,"y":11.55},{"x":10.9,"y":11.75},
      {"x":11.05,"y":10.85},{"x":11.05,"y":11.05},{"x":11.05,"y":11.25},{"x":11.05,"y":11.45},{"x":11.05,"y":11.65},{"x":11.05,"y":11.9},
      {"x":11.2,"y":11.0},{"x":11.2,"y":11.2},{"x":11.2,"y":11.4},{"x":11.2,"y":11.6},{"x":11.2,"y":11.8},{"x":11.2,"y":12.0},
      {"x":11.4,"y":11.1},{"x":11.4,"y":11.35},{"x":11.4,"y":11.55},{"x":11.4,"y":11.75},{"x":11.4,"y":12.0},{"x":11.4,"y":12.2},
      {"x":11.6,"y":11.2},{"x":11.6,"y":11.45},{"x":11.6,"y":11.7},{"x":11.6,"y":11.95},{"x":11.6,"y":12.2},
      {"x":11.8,"y":11.3},{"x":11.8,"y":11.55},{"x":11.8,"y":11.8},{"x":11.8,"y":12.05},{"x":11.8,"y":12.3},
      {"x":12.0,"y":11.4},{"x":12.0,"y":11.7},{"x":12.0,"y":11.95},{"x":12.0,"y":12.2},{"x":12.0,"y":12.45},{"x":12.0,"y":12.7},
      {"x":12.2,"y":11.55},{"x":12.2,"y":11.85},{"x":12.2,"y":12.1},{"x":12.2,"y":12.35},{"x":12.2,"y":12.6},
      {"x":12.4,"y":11.7},{"x":12.4,"y":12.0},{"x":12.4,"y":12.3},{"x":12.4,"y":12.55},{"x":12.4,"y":12.8},
      {"x":12.6,"y":11.85},{"x":12.6,"y":12.15},{"x":12.6,"y":12.45},{"x":12.6,"y":12.7},{"x":12.6,"y":12.95},{"x":12.6,"y":13.2},
      {"x":12.8,"y":12.0},{"x":12.8,"y":12.3},{"x":12.8,"y":12.6},{"x":12.8,"y":12.9},{"x":12.8,"y":13.15},
      {"x":13.0,"y":12.1},{"x":13.0,"y":12.45},{"x":13.0,"y":12.8},{"x":13.0,"y":13.1},{"x":13.0,"y":13.35},{"x":13.0,"y":13.6},
      {"x":13.2,"y":12.25},{"x":13.2,"y":12.6},{"x":13.2,"y":12.95},{"x":13.2,"y":13.25},{"x":13.2,"y":13.5},
      {"x":13.4,"y":12.4},{"x":13.4,"y":12.75},{"x":13.4,"y":13.1},{"x":13.4,"y":13.4},{"x":13.4,"y":13.7},{"x":13.4,"y":14.0},
      {"x":13.6,"y":12.55},{"x":13.6,"y":12.9},{"x":13.6,"y":13.25},{"x":13.6,"y":13.55},{"x":13.6,"y":13.85},
      {"x":13.8,"y":12.7},{"x":13.8,"y":13.05},{"x":13.8,"y":13.4},{"x":13.8,"y":13.75},{"x":13.8,"y":14.05},{"x":13.8,"y":14.35},
      {"x":14.0,"y":12.9},{"x":14.0,"y":13.25},{"x":14.0,"y":13.6},{"x":14.0,"y":13.95},{"x":14.0,"y":14.25},
      {"x":14.2,"y":13.1},{"x":14.2,"y":13.45},{"x":14.2,"y":13.8},{"x":14.2,"y":14.15},{"x":14.2,"y":14.45},{"x":14.2,"y":14.7},
      {"x":14.4,"y":13.3},{"x":14.4,"y":13.65},{"x":14.4,"y":14.0},{"x":14.4,"y":14.35},{"x":14.4,"y":14.65},
      {"x":14.6,"y":13.5},{"x":14.6,"y":13.85},{"x":14.6,"y":14.2},{"x":14.6,"y":14.55},{"x":14.6,"y":14.85},{"x":14.6,"y":15.1},
      {"x":14.8,"y":13.7},{"x":14.8,"y":14.05},{"x":14.8,"y":14.4},{"x":14.8,"y":14.75},{"x":14.8,"y":15.05},
      {"x":15.0,"y":13.9},{"x":15.0,"y":14.25},{"x":15.0,"y":14.6},{"x":15.0,"y":14.95},{"x":15.0,"y":15.25},{"x":15.0,"y":15.5},
      {"x":15.2,"y":14.15},{"x":15.2,"y":14.5},{"x":15.2,"y":14.85},{"x":15.2,"y":15.2},{"x":15.2,"y":15.5},
      {"x":15.4,"y":14.4},{"x":15.4,"y":14.75},{"x":15.4,"y":15.1},{"x":15.4,"y":15.45},{"x":15.4,"y":15.75},{"x":15.4,"y":16.1},
      {"x":15.6,"y":14.7},{"x":15.6,"y":15.05},{"x":15.6,"y":15.4},{"x":15.6,"y":15.7},{"x":15.6,"y":16.0},
      {"x":15.8,"y":15.0},{"x":15.8,"y":15.35},{"x":15.8,"y":15.7},{"x":15.8,"y":16.0},{"x":15.8,"y":16.3},{"x":15.8,"y":16.6},
      {"x":16.0,"y":15.35},{"x":16.0,"y":15.7},{"x":16.0,"y":16.0},{"x":16.0,"y":16.3},{"x":16.0,"y":16.6},
      {"x":16.2,"y":15.7},{"x":16.2,"y":16.0},{"x":16.2,"y":16.3},{"x":16.2,"y":16.6},{"x":16.2,"y":16.9},
      {"x":16.4,"y":16.0},{"x":16.4,"y":16.3},{"x":16.4,"y":16.55},{"x":16.4,"y":16.8},{"x":16.4,"y":17.0},
      {"x":16.6,"y":16.3},{"x":16.6,"y":16.55},{"x":16.6,"y":16.8},{"x":16.6,"y":17.0},
      {"x":16.8,"y":16.55},{"x":16.8,"y":16.8},{"x":16.8,"y":17.0},{"x":16.8,"y":17.2},
      {"x":17.0,"y":16.8},{"x":17.0,"y":17.0},{"x":17.0,"y":17.2},{"x":17.0,"y":17.35},
      {"x":17.2,"y":17.0},{"x":17.2,"y":17.2},{"x":17.2,"y":17.4},{"x":17.4,"y":17.25},{"x":17.4,"y":17.45},{"x":17.4,"y":17.6},{"x":17.55,"y":17.5},{"x":17.55,"y":17.7},
      {"x":16.0,"y":15.9},{"x":16.0,"y":15.5},{"x":16.0,"y":15.1},{"x":15.95,"y":14.7},{"x":15.9,"y":14.3},{"x":15.8,"y":14.0},{"x":15.7,"y":13.8},{"x":15.55,"y":13.6},{"x":15.4,"y":13.45},
      {"x":15.35,"y":15.0},{"x":15.3,"y":14.6},{"x":15.2,"y":14.2},{"x":15.1,"y":13.8},{"x":15.0,"y":13.4},{"x":14.9,"y":13.0},{"x":14.8,"y":12.6},
      {"x":13.3,"y":12.0},{"x":13.5,"y":11.95},{"x":13.7,"y":12.1},{"x":14.0,"y":12.3},{"x":14.3,"y":12.6},
      {"x":10.08,"y":10.3},{"x":10.08,"y":10.5},{"x":10.22,"y":10.25},{"x":10.22,"y":10.6},{"x":10.22,"y":10.95},{"x":10.38,"y":10.35},{"x":10.38,"y":10.7},{"x":10.38,"y":11.05},{"x":10.38,"y":11.3},{"x":10.52,"y":10.4},
      {"x":10.52,"y":10.8},{"x":10.52,"y":11.2},{"x":10.52,"y":11.6},{"x":10.68,"y":10.55},{"x":10.68,"y":10.95},{"x":10.68,"y":11.35},{"x":10.68,"y":11.75},{"x":10.82,"y":10.7},{"x":10.82,"y":11.1},{"x":10.82,"y":11.5},
      {"x":10.82,"y":11.85},{"x":10.98,"y":10.85},{"x":10.98,"y":11.25},{"x":10.98,"y":11.65},{"x":11.12,"y":10.95},{"x":11.12,"y":11.35},{"x":11.12,"y":11.75},{"x":11.3,"y":11.05},{"x":11.3,"y":11.5},{"x":11.3,"y":11.9},
      {"x":11.5,"y":11.2},{"x":11.5,"y":11.6},{"x":11.5,"y":12.05},{"x":11.7,"y":11.3},{"x":11.7,"y":11.8},{"x":11.7,"y":12.25},{"x":11.9,"y":11.4},{"x":11.9,"y":11.9},{"x":11.9,"y":12.4},{"x":12.1,"y":11.5},
      {"x":12.1,"y":12.0},{"x":12.1,"y":12.55},{"x":12.3,"y":11.65},{"x":12.3,"y":12.2},{"x":12.3,"y":12.7},{"x":12.5,"y":11.8},{"x":12.5,"y":12.35},{"x":12.5,"y":12.9},{"x":12.7,"y":11.95},{"x":12.7,"y":12.5},
      {"x":12.7,"y":13.05},{"x":12.9,"y":12.05},{"x":12.9,"y":12.65},{"x":12.9,"y":13.25},{"x":13.1,"y":12.2},{"x":13.1,"y":12.8},{"x":13.1,"y":13.4},{"x":13.3,"y":12.35},{"x":13.3,"y":12.95},{"x":13.3,"y":13.6},
      {"x":13.5,"y":12.5},{"x":13.5,"y":13.1},{"x":13.5,"y":13.75},{"x":13.7,"y":12.65},{"x":13.7,"y":13.3},{"x":13.7,"y":13.95},{"x":13.9,"y":12.8},{"x":13.9,"y":13.5},{"x":13.9,"y":14.15},{"x":14.1,"y":13.0},
      {"x":14.1,"y":13.7},{"x":14.1,"y":14.35},{"x":14.3,"y":13.2},{"x":14.3,"y":13.9},{"x":14.3,"y":14.55},{"x":14.5,"y":13.4},{"x":14.5,"y":14.1},{"x":14.5,"y":14.75},{"x":14.7,"y":13.6},{"x":14.7,"y":14.3},
      {"x":14.7,"y":14.95},{"x":14.9,"y":13.8},{"x":14.9,"y":14.5},{"x":14.9,"y":15.15},{"x":15.1,"y":14.0},{"x":15.1,"y":14.7},{"x":15.1,"y":15.35},{"x":15.3,"y":14.3},{"x":15.3,"y":14.95},{"x":15.3,"y":15.6},
      {"x":15.5,"y":14.55},{"x":15.5,"y":15.25},{"x":15.5,"y":15.9},{"x":15.7,"y":14.85},{"x":15.7,"y":15.55},{"x":15.7,"y":16.2},{"x":15.9,"y":15.2},{"x":15.9,"y":15.85},{"x":15.9,"y":16.45},{"x":16.1,"y":15.5},
      {"x":16.1,"y":16.15},{"x":16.1,"y":16.75},{"x":16.3,"y":15.85},{"x":16.3,"y":16.45},{"x":16.5,"y":16.15},{"x":16.5,"y":16.7},{"x":16.7,"y":16.45},{"x":16.7,"y":16.95},{"x":16.9,"y":16.7},{"x":16.9,"y":17.1},
      {"x":17.1,"y":16.9},{"x":17.1,"y":17.3},{"x":17.3,"y":17.1},{"x":17.3,"y":17.5}
    ],
    "diag": [{"x":8,"y":8},{"x":18,"y":18}],
    "box": [{"x":5.51,"x2":18.97,"y":6.42,"y2":19.4}],
    "tagA": [{"x":3.33,"y":0.027,"t":"a)"}],
    "tagB": [{"x":2.03,"y":0.018,"t":"b)"}],
    "tagF": [{"x":16.3,"y":9.2,"t":"f)"}]
  },
  "resolve": {"scale": {"x": "independent", "y": "independent"}},
  "layer": [
    {
      "data": {"name": "scanfish"},
      "mark": {"type": "circle", "size": 42, "opacity": 1, "color": "#0b6db7"},
      "encoding": {
        "x": {"field": "x", "type": "quantitative",
          "scale": {"domain": [0, 4], "range": [145, 838], "nice": false, "zero": false},
          "axis": {"orient": "bottom", "offset": -92, "values": [0, 1, 2, 3, 4], "title": "dT/Zt",
            "labelFontSize": 30, "titleFontSize": 36, "labelPadding": 18, "titlePadding": 10}},
        "y": {"field": "y", "type": "quantitative",
          "scale": {"domain": [0, 0.3], "range": [832, 58], "nice": false, "zero": false},
          "axis": {"orient": "left", "offset": -145, "values": [0, 0.05, 0.1, 0.15, 0.2, 0.25, 0.3], "title": "N2max",
            "labelFontSize": 30, "titleFontSize": 36, "labelPadding": 16, "titlePadding": 16}}
      }
    },
    {
      "data": {"name": "tagA"},
      "mark": {"type": "text", "font": "Liberation Serif", "fontSize": 48, "align": "left", "baseline": "middle", "color": "#111"},
      "encoding": {
        "x": {"field": "x", "type": "quantitative",
          "scale": {"domain": [0, 4], "range": [145, 838], "nice": false, "zero": false},
          "axis": {"orient": "top", "offset": -58, "values": [0, 1, 2, 3, 4], "labels": false, "title": "Scanfish",
            "titleFontSize": 32, "titleFontWeight": "bold", "titleColor": "#111", "titlePadding": 14}},
        "y": {"field": "y", "type": "quantitative",
          "scale": {"domain": [0, 0.3], "range": [832, 58], "nice": false, "zero": false},
          "axis": {"orient": "right", "offset": -952, "values": [0, 0.05, 0.1, 0.15, 0.2, 0.25, 0.3], "labels": false, "title": null}},
        "text": {"field": "t"}
      }
    },
    {
      "data": {"name": "model"},
      "mark": {"type": "circle", "size": 36, "opacity": 1, "color": "#0b6db7"},
      "encoding": {
        "x": {"field": "x", "type": "quantitative",
          "scale": {"domain": [0, 2.5], "range": [1057, 1752], "nice": false, "zero": false},
          "axis": {"orient": "bottom", "offset": -94, "values": [0, 0.5, 1, 1.5, 2, 2.5], "title": "dT/Zt",
            "labelFontSize": 30, "titleFontSize": 36, "labelPadding": 18, "titlePadding": 10}},
        "y": {"field": "y", "type": "quantitative",
          "scale": {"domain": [0, 0.18], "range": [830, 58], "nice": false, "zero": false},
          "axis": {"orient": "left", "offset": -1057, "values": [0, 0.02, 0.04, 0.06], "title": null,
            "labelFontSize": 30, "labelPadding": 20}}
      }
    },
    {
      "data": {"name": "tagB"},
      "mark": {"type": "text", "font": "Liberation Serif", "fontSize": 50, "align": "left", "baseline": "middle", "color": "#111"},
      "encoding": {
        "x": {"field": "x", "type": "quantitative",
          "scale": {"domain": [0, 2.5], "range": [1057, 1752], "nice": false, "zero": false},
          "axis": {"orient": "top", "offset": -58, "values": [0, 0.5, 1, 1.5, 2, 2.5], "labels": false, "title": "Model",
            "titleFontSize": 32, "titleFontWeight": "bold", "titleColor": "#111", "titlePadding": 14}},
        "y": {"field": "y", "type": "quantitative",
          "scale": {"domain": [0, 0.18], "range": [830, 58], "nice": false, "zero": false},
          "axis": {"orient": "right", "offset": -38, "values": [0, 0.02, 0.04, 0.06, 0.08, 0.1, 0.12, 0.14, 0.16, 0.18], "labels": false, "title": null}},
        "text": {"field": "t"}
      }
    },
    {
      "data": {"name": "box"},
      "mark": {"type": "rect", "color": "white"},
      "encoding": {
        "x": {"field": "x", "type": "quantitative", "scale": {"domain": [8, 18], "range": [867, 1257], "nice": false, "zero": false}, "axis": null},
        "x2": {"field": "x2"},
        "y": {"field": "y", "type": "quantitative", "scale": {"domain": [8, 18], "range": [486, 50], "nice": false, "zero": false}, "axis": null},
        "y2": {"field": "y2"}
      }
    },
    {
      "data": {"name": "bottom"},
      "mark": {"type": "circle", "size": 13, "opacity": 1, "color": "#0b6db7"},
      "encoding": {
        "x": {"field": "x", "type": "quantitative",
          "scale": {"domain": [8, 18], "range": [867, 1257], "nice": false, "zero": false},
          "axis": {"orient": "bottom", "offset": -438, "values": [8, 10, 12, 14, 16, 18], "title": "Scanfish", "zindex": 1,
            "tickSize": -5, "tickWidth": 1, "domainWidth": 1.3, "labelFontSize": 17, "titleFontSize": 19, "labelPadding": 12, "titlePadding": 5}},
        "y": {"field": "y", "type": "quantitative",
          "scale": {"domain": [8, 18], "range": [486, 50], "nice": false, "zero": false},
          "axis": {"orient": "left", "offset": -867, "values": [8, 9, 10, 11, 12, 13, 14, 15, 16, 17, 18], "title": "NEMO", "zindex": 1,
            "titleFontWeight": "bold", "tickSize": -5, "tickWidth": 1, "domainWidth": 1.3, "labelFontSize": 17, "titleFontSize": 17, "labelPadding": 11, "titlePadding": 14}}
      }
    },
    {
      "data": {"name": "diag"},
      "mark": {"type": "line", "color": "#c0563a", "strokeWidth": 1.2},
      "encoding": {
        "x": {"field": "x", "type": "quantitative", "scale": {"domain": [8, 18], "range": [867, 1257], "nice": false, "zero": false}, "axis": null},
        "y": {"field": "y", "type": "quantitative", "scale": {"domain": [8, 18], "range": [486, 50], "nice": false, "zero": false}, "axis": null}
      }
    },
    {
      "data": {"name": "tagF"},
      "mark": {"type": "text", "font": "Liberation Serif", "fontSize": 26, "align": "left", "baseline": "middle", "color": "#111"},
      "encoding": {
        "x": {"field": "x", "type": "quantitative",
          "scale": {"domain": [8, 18], "range": [867, 1257], "nice": false, "zero": false},
          "axis": {"orient": "top", "offset": -50, "values": [8, 10, 12, 14, 16, 18], "labels": false, "title": "Bottom temperature", "zindex": 1,
            "tickSize": -5, "tickWidth": 1, "domainWidth": 1.3, "titleFontSize": 17, "titleFontWeight": "bold", "titleColor": "#111", "titlePadding": 6}},
        "y": {"field": "y", "type": "quantitative",
          "scale": {"domain": [8, 18], "range": [486, 50], "nice": false, "zero": false},
          "axis": {"orient": "right", "offset": -533, "values": [8, 9, 10, 11, 12, 13, 14, 15, 16, 17, 18], "labels": false, "title": null, "zindex": 1,
            "tickSize": -5, "tickWidth": 1, "domainWidth": 1.3}},
        "text": {"field": "t"}
      }
    }
  ]
}
